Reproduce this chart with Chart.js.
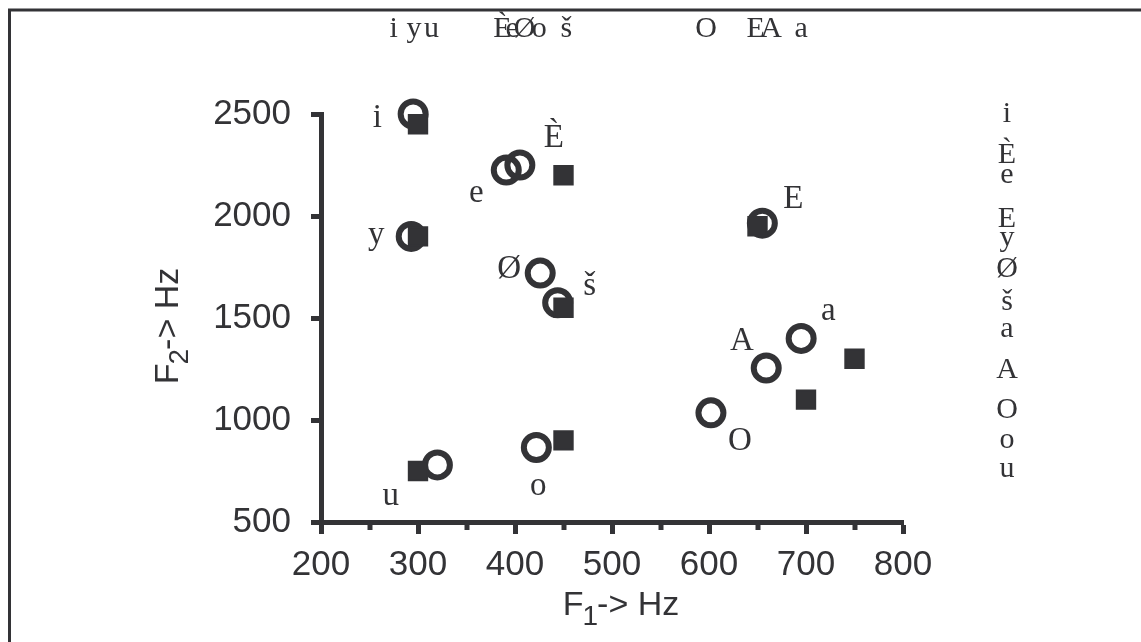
<!DOCTYPE html>
<html>
<head>
<meta charset="utf-8">
<script src="https://cdn.jsdelivr.net/npm/chart.js@4.4.1/dist/chart.umd.min.js"></script>
<style>
  html, body { margin: 0; padding: 0; background: #fff; }
  #wrap { width: 1141px; height: 642px; }
</style>
</head>
<body>
<div id="wrap"><canvas id="vowelChart" width="1141" height="642"></canvas></div>
<script>
// Formant pairs (Hz): open circles
const circleF1 = [295, 293, 391, 405, 426, 444, 655, 695, 659, 602, 320, 422];
const circleF2 = [2500, 1900, 2225, 2250, 1720, 1575, 1965, 1400, 1255, 1035, 780, 865];

// Formant pairs (Hz): filled squares
const squareF1 = [300, 300, 450, 450, 650, 750, 700, 300, 450];
const squareF2 = [2450, 1900, 2200, 1550, 1950, 1300, 1100, 750, 900];

// Vowel names written next to the points (anchored in F1/F2 space)
const vowelLabels = ['i', 'y', 'e', 'È', 'Ø', 'š', 'E', 'a', 'A', 'O', 'u', 'o'];
const vowelLabelF1 = [258, 257, 360, 440, 394, 477, 687, 723, 634, 632, 272, 424];
const vowelLabelF2 = [2436, 1863, 2069, 2338, 1696, 1613, 2039, 1490, 1343, 853, 583, 632];

// Vowels ordered by F1 (row above the plot) and by F2 (column on the right)
const f1Order = ['i', 'y', 'u', 'È', 'e', 'Ø', 'o', 'š', 'O', 'E', 'A', 'a'];
const f1OrderHz = [275, 296, 314, 387, 397, 410, 425, 453, 597, 648, 664, 695];
const f2Order = ['i', 'È', 'e', 'E', 'y', 'Ø', 'š', 'a', 'A', 'O', 'o', 'u'];
const f2OrderHz = [2500, 2300, 2200, 1985, 1890, 1740, 1580, 1445, 1245, 1050, 900, 760];

// Axis ranges
const f1Range = [200, 800];
const f2Range = [500, 2500];
const f1Step = 100;
const f2Step = 500;

const INK = '#333336';
const SANS = '"Liberation Sans", Arial, sans-serif';
const SERIF = '"Liberation Serif", "Times New Roman", serif';

const toXY = (xs, ys) => xs.map((x, i) => ({ x, y: ys[i] }));

// page frame (top and left rules only)
const framePlugin = {
  id: 'frame',
  beforeDraw(chart) {
    const ctx = chart.ctx;
    ctx.save();
    ctx.strokeStyle = INK;
    ctx.lineWidth = 3;
    ctx.beginPath();
    ctx.moveTo(9.5, chart.height);
    ctx.lineTo(9.5, 10);
    ctx.lineTo(chart.width, 10);
    ctx.stroke();
    ctx.restore();
  }
};

// short minor ticks halfway between the F1 labels
const minorTicksPlugin = {
  id: 'minorTicks',
  afterDraw(chart) {
    const xs = chart.scales.x;
    const ctx = chart.ctx;
    ctx.save();
    ctx.strokeStyle = INK;
    ctx.lineWidth = 5;
    for (let v = f1Range[0] + f1Step / 2; v < f1Range[1]; v += f1Step) {
      const px = Math.round(xs.getPixelForValue(v));
      ctx.beginPath();
      ctx.moveTo(px, xs.top);
      ctx.lineTo(px, xs.top + 8);
      ctx.stroke();
    }
    ctx.restore();
  }
};

// axis titles with subscripted formant number
function drawSubTitle(ctx, base, sub, rest) {
  ctx.font = '34px ' + SANS;
  const wBase = ctx.measureText(base).width;
  const wRest = ctx.measureText(rest).width;
  ctx.font = '28px ' + SANS;
  const wSub = ctx.measureText(sub).width;
  let x = -(wBase + wSub + wRest) / 2;
  ctx.textBaseline = 'alphabetic';
  ctx.textAlign = 'left';
  ctx.font = '34px ' + SANS;
  ctx.fillText(base, x, 12);
  x += wBase;
  ctx.font = '28px ' + SANS;
  ctx.fillText(sub, x - 1, 22);
  x += wSub;
  ctx.font = '34px ' + SANS;
  ctx.fillText(rest, x - 2, 12);
}

const axisTitlePlugin = {
  id: 'axisTitles',
  afterDraw(chart) {
    const ctx = chart.ctx;
    ctx.save();
    ctx.fillStyle = INK;
    ctx.translate(622, 603);
    drawSubTitle(ctx, 'F', '1', '-> Hz');
    ctx.restore();

    ctx.save();
    ctx.fillStyle = INK;
    ctx.translate(166, 325);
    ctx.rotate(-Math.PI / 2);
    drawSubTitle(ctx, 'F', '2', '-> Hz');
    ctx.restore();
  }
};

// vowel letters: beside points, along the top row and down the right column
const vowelTextPlugin = {
  id: 'vowelText',
  afterDatasetsDraw(chart) {
    const xs = chart.scales.x;
    const ys = chart.scales.y;
    const ctx = chart.ctx;
    ctx.save();
    ctx.fillStyle = INK;
    ctx.textAlign = 'center';
    ctx.textBaseline = 'alphabetic';

    ctx.font = '33px ' + SERIF;
    vowelLabels.forEach((t, i) => {
      ctx.fillText(t, xs.getPixelForValue(vowelLabelF1[i]), ys.getPixelForValue(vowelLabelF2[i]));
    });

    ctx.font = '30px ' + SERIF;
    f1Order.forEach((t, i) => {
      ctx.fillText(t, xs.getPixelForValue(f1OrderHz[i]), 37);
    });
    f2Order.forEach((t, i) => {
      ctx.fillText(t, 1007, ys.getPixelForValue(f2OrderHz[i]) + 8);
    });
    ctx.restore();
  }
};

new Chart(document.getElementById('vowelChart').getContext('2d'), {
  type: 'scatter',
  data: {
    datasets: [
      {
        label: 'squares',
        data: toXY(squareF1, squareF2),
        pointStyle: 'rect',
        radius: 13,
        borderWidth: 2,
        backgroundColor: INK,
        borderColor: INK,
        clip: false,
        order: 0
      },
      {
        label: 'circles',
        data: toXY(circleF1, circleF2),
        pointStyle: 'circle',
        radius: 12.5,
        borderWidth: 6,
        backgroundColor: 'rgba(0,0,0,0)',
        borderColor: INK,
        clip: false,
        order: 1
      }
    ]
  },
  options: {
    responsive: false,
    animation: false,
    events: [],
    layout: { padding: { left: 0, top: 114, right: 238, bottom: 0 } },
    plugins: { legend: { display: false }, tooltip: { enabled: false } },
    scales: {
      x: {
        type: 'linear',
        min: f1Range[0],
        max: f1Range[1],
        border: { display: true, color: INK, width: 5 },
        grid: { drawOnChartArea: false, drawTicks: true, tickLength: 12, tickWidth: 5, tickColor: INK },
        ticks: {
          stepSize: f1Step,
          color: INK,
          font: { family: SANS, size: 35 },
          padding: 10,
          callback: (v) => String(v)
        },
        afterFit: (s) => { s.height = 120; }
      },
      y: {
        type: 'linear',
        min: f2Range[0],
        max: f2Range[1],
        border: { display: true, color: INK, width: 5 },
        grid: { drawOnChartArea: false, drawTicks: true, tickLength: 10, tickWidth: 5, tickColor: INK },
        ticks: {
          stepSize: f2Step,
          color: INK,
          font: { family: SANS, size: 35 },
          padding: 20,
          callback: (v) => String(v)
        },
        afterFit: (s) => { s.width = 321; }
      }
    }
  },
  plugins: [framePlugin, minorTicksPlugin, axisTitlePlugin, vowelTextPlugin]
});
</script>
</body>
</html>
